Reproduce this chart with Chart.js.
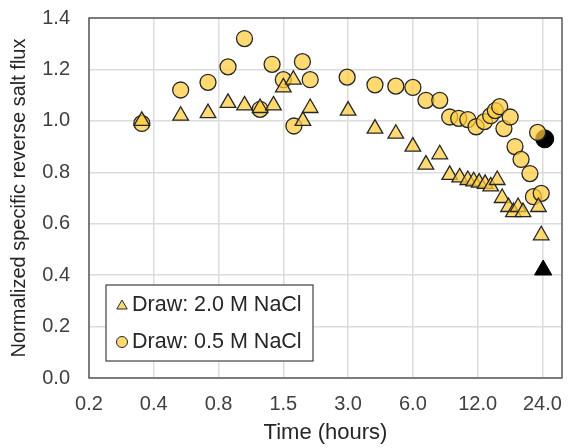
<!DOCTYPE html>
<html>
<head>
<meta charset="utf-8">
<script src="https://cdn.jsdelivr.net/npm/chart.js@4"></script>
<style>
  html, body { margin: 0; padding: 0; background: #fff; }
</style>
</head>
<body>
<canvas id="chart-salt-flux" width="573" height="448"></canvas>
<script>
// Draw: 2.0 M NaCl (triangles)
const time_2m = [0.33, 0.50, 0.67, 0.83, 0.99, 1.17, 1.35, 1.50, 1.67, 1.85, 2.0,
  3.0, 4.0, 5.0, 6.0, 6.9, 8.0, 8.9, 9.9, 10.8, 11.5, 12.2, 13.0, 13.8, 14.8,
  15.6, 16.7, 17.6, 18.5, 19.5, 23.0, 23.7];
const flux_2m = [1.00, 1.02, 1.03, 1.07, 1.06, 1.05, 1.06, 1.13, 1.16, 1.00, 1.05,
  1.04, 0.97, 0.95, 0.90, 0.83, 0.87, 0.79, 0.78, 0.77, 0.765, 0.76, 0.755, 0.745, 0.77,
  0.70, 0.665, 0.645, 0.665, 0.645, 0.665, 0.555];

// Draw: 0.5 M NaCl (circles)
const time_05m = [0.33, 0.50, 0.67, 0.83, 0.99, 1.17, 1.33, 1.50, 1.68, 1.84, 2.0,
  2.97, 4.0, 5.0, 6.0, 6.9, 8.0, 8.9, 9.8, 10.8, 11.8, 12.9, 13.8, 14.5, 15.2,
  15.9, 17.0, 17.9, 19.1, 21.0, 21.8, 22.8, 23.7];
const flux_05m = [0.99, 1.12, 1.15, 1.21, 1.32, 1.045, 1.22, 1.16, 0.98, 1.23, 1.16,
  1.17, 1.14, 1.135, 1.13, 1.08, 1.08, 1.015, 1.01, 1.005, 0.977, 0.997, 1.02, 1.04, 1.055,
  0.97, 1.015, 0.90, 0.85, 0.795, 0.705, 0.955, 0.718];

// black end points (not in legend)
const time_2m_end = [24.2];
const flux_2m_end = [0.42];
const time_05m_end = [24.6];
const flux_05m_end = [0.93];

const x_tick_values = [0.1875, 0.375, 0.75, 1.5, 3, 6, 12, 24];
const x_tick_labels = ["0.2", "0.4", "0.8", "1.5", "3.0", "6.0", "12.0", "24.0"];
const series_labels = ["Draw: 2.0 M NaCl", "Draw: 0.5 M NaCl"];

const gold = "rgba(255, 204, 60, 0.72)";
const edge = "#262626";
const font_family = "'Liberation Sans', Arial, sans-serif";

function to_points(xs, ys) {
  return xs.map((x, i) => ({ x: x, y: ys[i] }));
}

// plot area frame
const plot_frame = {
  id: "plotFrame",
  afterDatasetsDraw(chart) {
    const a = chart.chartArea;
    const ctx = chart.ctx;
    ctx.save();
    ctx.strokeStyle = "#5a5a5a";
    ctx.lineWidth = 1.5;
    ctx.strokeRect(a.left, a.top, a.right - a.left, a.bottom - a.top);
    ctx.restore();
  }
};

// legend drawn inside the plot, lower left
const inside_legend = {
  id: "insideLegend",
  afterDraw(chart) {
    const a = chart.chartArea;
    const ctx = chart.ctx;
    const bx = a.left + 17, by = a.top + 267, bw = 207, bh = 76;
    ctx.save();
    ctx.fillStyle = "#fff";
    ctx.fillRect(bx, by, bw, bh);
    ctx.strokeStyle = "#404040";
    ctx.lineWidth = 1.2;
    ctx.strokeRect(bx, by, bw, bh);

    ctx.fillStyle = gold;
    ctx.strokeStyle = edge;
    ctx.lineWidth = 1;
    // triangle
    const tx = bx + 16, ty = by + 21, r = 6;
    ctx.beginPath();
    ctx.moveTo(tx, ty - r);
    ctx.lineTo(tx + r * 0.866, ty + r / 2);
    ctx.lineTo(tx - r * 0.866, ty + r / 2);
    ctx.closePath();
    ctx.fill();
    ctx.stroke();
    // circle
    ctx.beginPath();
    ctx.arc(bx + 16, by + 57, 5.5, 0, Math.PI * 2);
    ctx.fill();
    ctx.stroke();

    ctx.fillStyle = "#262626";
    ctx.font = "21.5px " + font_family;
    ctx.textBaseline = "middle";
    ctx.textAlign = "left";
    ctx.fillText(series_labels[0], bx + 26, by + 20);
    ctx.fillText(series_labels[1], bx + 26, by + 57);
    ctx.restore();
  }
};

const config_salt_flux = {
  type: "scatter",
  data: {
    datasets: [
      {
        label: series_labels[0],
        data: to_points(time_2m, flux_2m),
        pointStyle: "triangle",
        pointRadius: 9,
        backgroundColor: gold,
        borderColor: edge,
        borderWidth: 1.3
      },
      {
        label: series_labels[1],
        data: to_points(time_05m, flux_05m),
        pointStyle: "circle",
        pointRadius: 8,
        backgroundColor: gold,
        borderColor: edge,
        borderWidth: 1.3
      },
      {
        label: "end 2.0",
        data: to_points(time_2m_end, flux_2m_end),
        pointStyle: "triangle",
        pointRadius: 10,
        backgroundColor: "#000",
        borderColor: "#000",
        borderWidth: 1
      },
      {
        label: "end 0.5",
        data: to_points(time_05m_end, flux_05m_end),
        pointStyle: "circle",
        pointRadius: 9,
        backgroundColor: "#000",
        borderColor: "#000",
        borderWidth: 1
      }
    ]
  },
  options: {
    responsive: false,
    animation: false,
    devicePixelRatio: 1,
    layout: { padding: { top: 18, right: 2, left: 0, bottom: 0 } },
    plugins: {
      legend: { display: false },
      tooltip: { enabled: false }
    },
    scales: {
      x: {
        type: "logarithmic",
        min: 0.1875,
        max: 29.6,
        bounds: "data",
        afterBuildTicks: (scale) => {
          scale.ticks = x_tick_values.map(v => ({ value: v }));
        },
        afterFit: (scale) => {
          scale.height = 70;
          scale.paddingLeft = 0;
          scale.paddingRight = 0;
        },
        ticks: {
          autoSkip: false,
          maxRotation: 0,
          padding: 14,
          color: "#404040",
          font: { family: font_family, size: 20 },
          callback: (v, i) => x_tick_labels[i]
        },
        grid: { color: "#dcdcdc", lineWidth: 1.5, drawTicks: false },
        border: { display: false },
        title: {
          display: true,
          text: "Time (hours)",
          color: "#262626",
          font: { family: font_family, size: 22 },
          padding: { top: 0, bottom: 2 }
        }
      },
      y: {
        min: 0,
        max: 1.4,
        afterFit: (scale) => {
          scale.width = 89;
          scale.paddingTop = 0;
          scale.paddingBottom = 0;
        },
        ticks: {
          stepSize: 0.2,
          padding: 19,
          color: "#404040",
          font: { family: font_family, size: 20 },
          callback: (v) => v.toFixed(1)
        },
        grid: { color: "#dcdcdc", lineWidth: 1.5, drawTicks: false },
        border: { display: false },
        title: {
          display: true,
          text: "Normalized specific reverse salt flux",
          color: "#262626",
          font: { family: font_family, size: 20 },
          padding: { top: 7, bottom: 0 }
        }
      }
    }
  },
  plugins: [plot_frame, inside_legend]
};

new Chart(document.getElementById("chart-salt-flux"), config_salt_flux);
</script>
</body>
</html>
